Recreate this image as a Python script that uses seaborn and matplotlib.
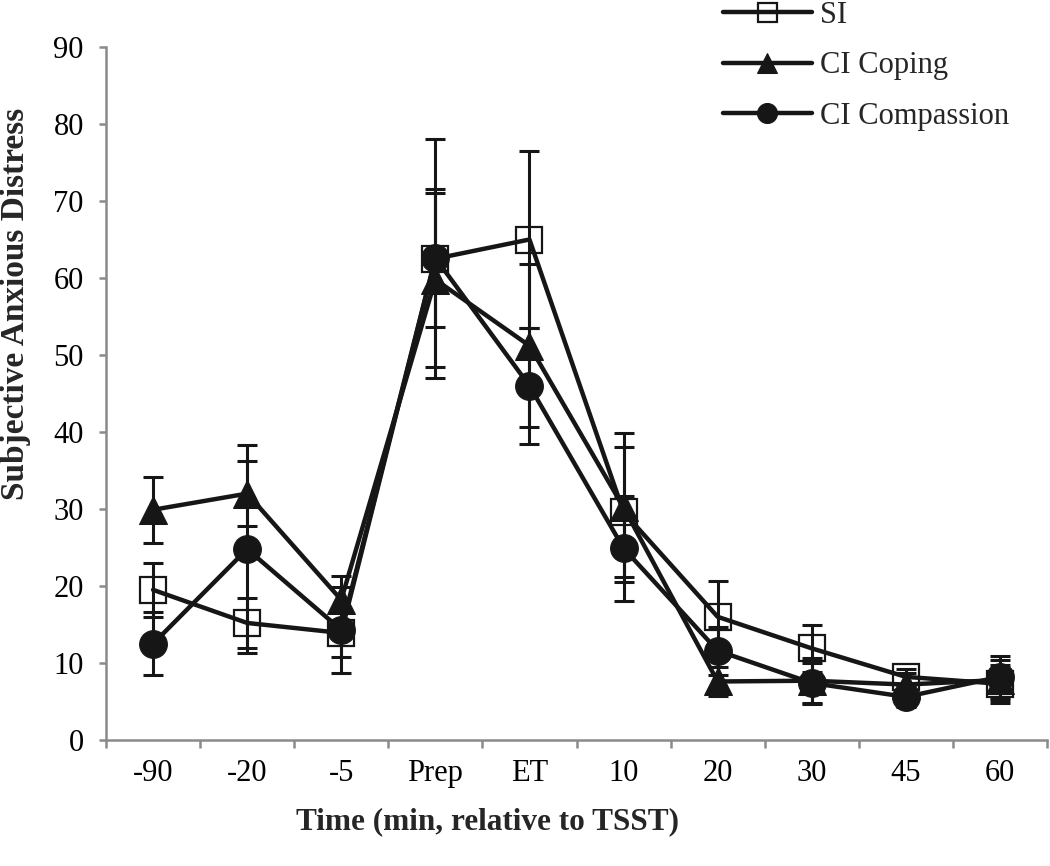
import numpy as np
import pandas as pd
import matplotlib
matplotlib.use("Agg")
import matplotlib.pyplot as plt
import seaborn as sns

# Time points (categorical x axis)
time_labels = ['-90', '-20', '-5', 'Prep', 'ET', '10', '20', '30', '45', '60']

# Mean subjective anxious distress and error bars per condition
si_mean = [19.5, 15.2, 13.9, 62.5, 65.0, 29.6, 16.0, 11.9, 8.2, 7.3]
si_err = [3.5, 3.3, 3.1, 15.5, 11.5, 8.4, 4.6, 3.1, 1.0, 2.5]

coping_mean = [29.9, 32.0, 18.2, 59.8, 51.2, 30.2, 7.6, 7.7, 7.2, 7.8]
coping_err = [4.3, 4.2, 3.1, 11.3, 10.6, 9.7, 1.9, 3.0, 1.5, 2.6]

compassion_mean = [12.5, 24.8, 14.3, 62.6, 46.0, 24.9, 11.6, 7.4, 5.6, 8.2]
compassion_err = [4.1, 13.5, 5.6, 9.0, 7.5, 6.8, 3.1, 2.6, 1.3, 2.7]

series = [
    ('SI', si_mean, si_err, dict(marker='s', markersize=19, markerfacecolor='none',
                                 markeredgewidth=1.6)),
    ('CI Coping', coping_mean, coping_err, dict(marker='^', markersize=20)),
    ('CI Compassion', compassion_mean, compassion_err, dict(marker='o', markersize=20)),
]

ink = '#161616'
axis_grey = '#8a8a8a'

sns.set_style('ticks')
plt.rcParams['font.family'] = ['Liberation Serif', 'DejaVu Serif']

fig = plt.figure(figsize=(10.5, 8.66), dpi=100)
ax = fig.add_axes([106 / 1050, 1 - 740 / 866, (1047 - 106) / 1050, (740 - 47) / 866])

for name, mean, err, style in series:
    df = pd.DataFrame({'time': time_labels, 'value': mean})
    sns.lineplot(data=df, x='time', y='value', ax=ax, sort=False, color=ink,
                 linewidth=3.2, markeredgecolor=ink, label=name, **style)
    ax.errorbar(np.arange(len(time_labels)), mean, yerr=err, fmt='none',
                ecolor=ink, elinewidth=2.2, capsize=7.5, capthick=2.2, zorder=1)

# axes limits and ticks
ax.set_xlim(-0.5, len(time_labels) - 0.5)
ax.set_ylim(0, 90)
ax.set_yticks(np.arange(0, 91, 10))
ax.set_xticks(np.arange(len(time_labels)))
ax.set_xticklabels(time_labels)
ax.set_xticks(np.arange(-0.5, len(time_labels)), minor=True)
ax.tick_params(axis='x', which='major', length=0, pad=14, labelsize=22, colors='black')
ax.tick_params(axis='x', which='minor', length=6, width=1.8, color=axis_grey, direction='out')
ax.tick_params(axis='y', which='major', length=5, width=1.8, color=axis_grey,
               direction='out', pad=11, labelsize=22, labelcolor='black')

sns.despine(ax=ax)
for side in ['left', 'bottom']:
    ax.spines[side].set_color(axis_grey)
    ax.spines[side].set_linewidth(1.8)

ax.set_xlabel('')
ax.set_ylabel('')
fig.text(488 / 1050, 1 - 822 / 866, 'Time (min, relative to TSST)', ha='center',
         va='center', fontsize=22.5, fontweight='bold')
fig.text(16 / 1050, 1 - 304 / 866, 'Subjective Anxious Distress', ha='center',
         va='center', rotation=90, fontsize=24, fontweight='bold')

ax.legend(loc='upper left', bbox_to_anchor=(723 / 1050, 1 - 1 / 866),
          bbox_transform=fig.transFigure, frameon=False, fontsize=22,
          handlelength=2.9, handletextpad=0.26, labelspacing=0.7,
          markerscale=0.72, borderpad=0, borderaxespad=0)

fig.savefig('out.png', dpi=100)
